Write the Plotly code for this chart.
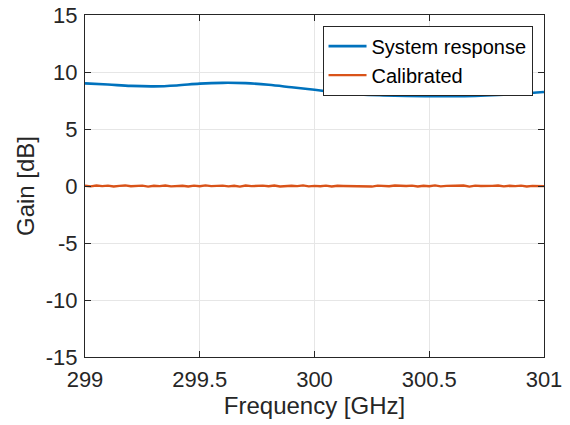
import plotly.graph_objects as go

freq_sys = [299.0, 299.1, 299.2, 299.3, 299.4, 299.5, 299.6, 299.7, 299.8, 299.9,
            300.0, 300.1, 300.2, 300.3, 300.4, 300.5, 300.6, 300.7, 300.8, 300.9, 301.0]
gain_sys = [9.00, 8.90, 8.78, 8.74, 8.82, 8.98, 9.05, 9.02, 8.88, 8.66,
            8.44, 8.20, 8.03, 7.95, 7.90, 7.88, 7.87, 7.90, 7.98, 8.10, 8.25]

freq_cal = [299.0 + i * 0.025 for i in range(81)]
gain_cal = [0.02, -0.03, 0.04, -0.01, 0.03, -0.04, 0.01, 0.05, -0.02, 0.00,
            0.03, -0.05, 0.02, -0.01, 0.04, -0.03, 0.01, 0.02, -0.04, 0.03,
            -0.02, 0.05, -0.01, 0.00, 0.03, -0.03, 0.02, -0.05, 0.04, -0.01,
            0.01, 0.03, -0.02, 0.04, -0.04, 0.00, 0.02, -0.01, 0.05, -0.03,
            0.01, -0.02, 0.03, -0.04, 0.02, 0.00, -0.01, 0.04, -0.03, 0.02,
            -0.05, 0.03, 0.01, -0.02, 0.04, -0.01, 0.00, 0.03, -0.04, 0.02,
            -0.02, 0.05, -0.03, 0.01, 0.02, -0.01, 0.04, -0.05, 0.03, 0.00,
            -0.02, 0.01, 0.04, -0.03, 0.02, -0.01, 0.03, -0.04, 0.01, 0.02, -0.01]

x_ticks = [299, 299.5, 300, 300.5, 301]
x_labels = ["299", "299.5", "300", "300.5", "301"]
y_ticks = [-15, -10, -5, 0, 5, 10, 15]
y_labels = ["-15", "-10", "-5", "0", "5", "10", "15"]

FONT = "Liberation Sans, Arial, Helvetica, sans-serif"
INK = "#262626"

fig = go.Figure()
fig.add_trace(go.Scatter(x=freq_sys, y=gain_sys, mode="lines", name="System response",
                         line=dict(color="#0072BD", width=2.6, shape="spline")))
fig.add_trace(go.Scatter(x=freq_cal, y=gain_cal, mode="lines", name="Calibrated",
                         line=dict(color="#D95319", width=2.4)))

axis_common = dict(showline=True, linecolor=INK, linewidth=1, mirror="ticks",
                   ticks="inside", ticklen=6, tickcolor=INK, automargin=False,
                   showgrid=True, gridcolor="#E6E6E6", gridwidth=1, zeroline=False,
                   tickfont=dict(family=FONT, size=22, color=INK))

fig.update_layout(
    width=570, height=425,
    margin=dict(l=85, r=26, t=15, b=68),
    paper_bgcolor="white", plot_bgcolor="white",
    font=dict(family=FONT, color=INK),
    xaxis=dict(range=[299, 301], tickvals=x_ticks, ticktext=x_labels,
               ticklabelstandoff=3,
               title=dict(text="Frequency [GHz]", font=dict(size=24, color=INK), standoff=4),
               **axis_common),
    yaxis=dict(range=[-15, 15], tickvals=y_ticks, ticktext=y_labels,
               ticklabelstandoff=2,
               title=dict(text="Gain [dB]", font=dict(size=24, color=INK), standoff=4),
               **axis_common),
    legend=dict(x=0.975, y=0.969, xanchor="right", yanchor="top",
                bgcolor="white", bordercolor=INK, borderwidth=1, itemwidth=38,
                font=dict(size=20, color="black", family=FONT), tracegroupgap=0),
    showlegend=True,
)

fig.write_html("out.html", config={"displayModeBar": False},
               post_script="document.body.style.margin='0';document.body.style.overflow='hidden';")
